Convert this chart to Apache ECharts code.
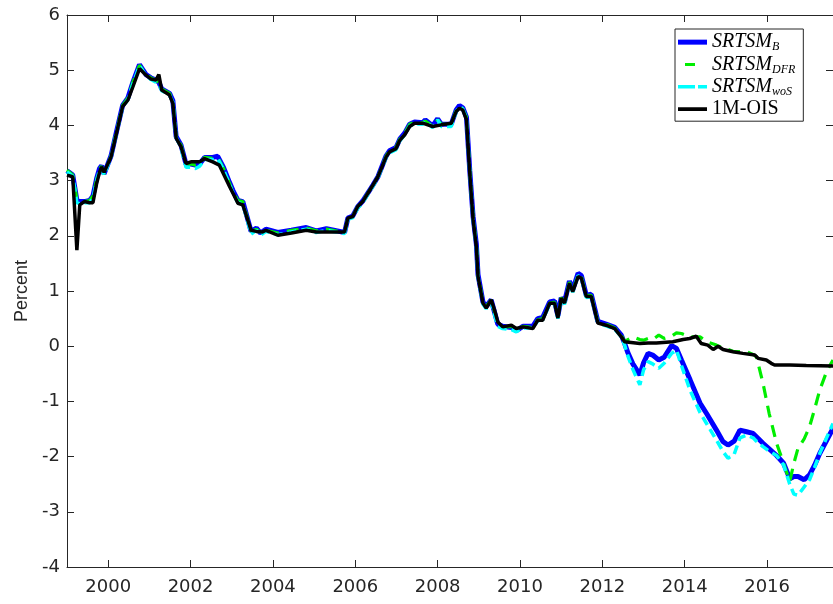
<!DOCTYPE html>
<html>
<head>
<meta charset="utf-8">
<script src="https://cdn.jsdelivr.net/npm/echarts@6/dist/echarts.min.js"></script>
<style>
  html, body { margin: 0; padding: 0; background: #fff; }
  #chart { width: 833px; height: 604px; }
</style>
</head>
<body>
<div id="chart"></div>
<script>
// x ticks (years)
const yearTicks = [2000, 2002, 2004, 2006, 2008, 2010, 2012, 2014, 2016];

// 1M-OIS: time (decimal year) and value (percent)
const oisT = [1999.00, 1999.14, 1999.16, 1999.24, 1999.31, 1999.42, 1999.55, 1999.63, 1999.72, 1999.79,
  1999.84, 1999.90, 2000.07, 2000.20, 2000.35, 2000.48, 2000.60, 2000.76, 2000.92, 2001.04,
  2001.16, 2001.23, 2001.30, 2001.49, 2001.57, 2001.65, 2001.77, 2001.89, 2002.01, 2002.22,
  2002.34, 2002.54, 2002.70, 2002.95, 2003.03, 2003.15, 2003.27, 2003.47, 2003.60, 2003.75,
  2003.83, 2004.12, 2004.45, 2004.81, 2005.05, 2005.30, 2005.74, 2005.82, 2005.94, 2006.06,
  2006.18, 2006.43, 2006.55, 2006.75, 2006.83, 2006.99, 2007.08, 2007.20, 2007.32, 2007.44,
  2007.64, 2007.88, 2008.09, 2008.33, 2008.45, 2008.53, 2008.61, 2008.70, 2008.78, 2008.86,
  2008.94, 2008.98, 2009.10, 2009.18, 2009.30, 2009.38, 2009.46, 2009.58, 2009.79, 2009.91,
  2010.07, 2010.31, 2010.43, 2010.55, 2010.72, 2010.84, 2010.92, 2011.00, 2011.08, 2011.20,
  2011.28, 2011.41, 2011.49, 2011.61, 2011.73, 2011.89, 2012.09, 2012.30, 2012.46, 2012.54,
  2012.91, 2013.11, 2013.31, 2013.71, 2013.96, 2014.12, 2014.28, 2014.40, 2014.56, 2014.69,
  2014.81, 2014.93, 2015.17, 2015.41, 2015.70, 2015.78, 2015.98, 2016.10, 2016.18, 2016.55,
  2016.95, 2017.60];
const oisV = [3.10, 3.07, 3.05, 1.74, 2.56, 2.62, 2.60, 2.60, 2.95, 3.15,
  3.25, 3.15, 3.43, 3.85, 4.34, 4.46, 4.70, 5.03, 4.91, 4.84,
  4.82, 4.92, 4.64, 4.55, 4.40, 3.77, 3.61, 3.31, 3.34, 3.34,
  3.40, 3.34, 3.28, 2.89, 2.77, 2.59, 2.56, 2.10, 2.08, 2.07,
  2.10, 2.01, 2.05, 2.10, 2.07, 2.07, 2.07, 2.32, 2.35, 2.53,
  2.62, 2.92, 3.07, 3.43, 3.52, 3.58, 3.73, 3.83, 3.98, 4.04,
  4.04, 3.98, 4.01, 4.04, 4.25, 4.31, 4.28, 4.10, 3.13, 2.30,
  1.80, 1.26, 0.78, 0.69, 0.84, 0.66, 0.44, 0.35, 0.38, 0.32,
  0.35, 0.32, 0.47, 0.47, 0.78, 0.78, 0.51, 0.87, 0.78, 1.14,
  0.99, 1.26, 1.23, 0.90, 0.90, 0.42, 0.38, 0.32, 0.17, 0.08,
  0.05, 0.06, 0.06, 0.08, 0.12, 0.14, 0.18, 0.05, 0.02, -0.06,
  0.00, -0.06, -0.10, -0.13, -0.16, -0.22, -0.25, -0.31, -0.34, -0.34,
  -0.35, -0.36];

// SRTSM shadow rates: shared time grid
const srtT = [1999.00, 1999.14, 1999.24, 1999.31, 1999.42, 1999.55, 1999.63, 1999.72, 1999.79, 1999.84,
  1999.90, 2000.07, 2000.20, 2000.35, 2000.48, 2000.60, 2000.76, 2000.92, 2001.04, 2001.16,
  2001.23, 2001.30, 2001.49, 2001.57, 2001.65, 2001.77, 2001.89, 2002.01, 2002.12, 2002.22,
  2002.34, 2002.54, 2002.66, 2002.80, 2002.95, 2003.03, 2003.15, 2003.27, 2003.47, 2003.60,
  2003.70, 2003.83, 2004.12, 2004.45, 2004.81, 2005.05, 2005.30, 2005.74, 2005.82, 2005.94,
  2006.06, 2006.18, 2006.43, 2006.55, 2006.75, 2006.83, 2006.99, 2007.08, 2007.20, 2007.32,
  2007.44, 2007.64, 2007.70, 2007.88, 2008.00, 2008.09, 2008.33, 2008.45, 2008.53, 2008.61,
  2008.70, 2008.78, 2008.86, 2008.94, 2008.98, 2009.10, 2009.18, 2009.30, 2009.38, 2009.46,
  2009.58, 2009.79, 2009.91, 2010.07, 2010.31, 2010.43, 2010.55, 2010.72, 2010.84, 2010.92,
  2011.00, 2011.08, 2011.20, 2011.28, 2011.41, 2011.49, 2011.61, 2011.73, 2011.89, 2012.09,
  2012.30, 2012.46, 2012.54, 2012.62, 2012.74, 2012.91, 2013.00, 2013.11, 2013.22, 2013.37,
  2013.50, 2013.68, 2013.80, 2013.92, 2014.13, 2014.37, 2014.53, 2014.77, 2014.93, 2015.05,
  2015.20, 2015.34, 2015.50, 2015.66, 2015.74, 2015.90, 2016.05, 2016.23, 2016.40, 2016.55,
  2016.65, 2016.75, 2016.90, 2017.03, 2017.15, 2017.28, 2017.45, 2017.60];
const srtB = [3.18, 3.10, 2.64, 2.62, 2.62, 2.64, 2.72, 3.04, 3.22, 3.27,
  3.12, 3.45, 3.88, 4.36, 4.50, 4.78, 5.10, 4.92, 4.86, 4.82,
  4.78, 4.66, 4.58, 4.45, 3.80, 3.64, 3.30, 3.30, 3.28, 3.30,
  3.42, 3.42, 3.44, 3.24, 2.96, 2.82, 2.64, 2.62, 2.08, 2.14,
  2.05, 2.12, 2.06, 2.10, 2.15, 2.09, 2.13, 2.06, 2.32, 2.36,
  2.53, 2.63, 2.92, 3.07, 3.45, 3.54, 3.60, 3.75, 3.86, 4.02,
  4.06, 4.05, 4.10, 3.99, 4.12, 4.02, 4.02, 4.28, 4.36, 4.32,
  4.15, 3.18, 2.35, 1.85, 1.30, 0.80, 0.72, 0.84, 0.62, 0.40,
  0.36, 0.34, 0.28, 0.36, 0.36, 0.50, 0.52, 0.80, 0.82, 0.55,
  0.88, 0.80, 1.18, 1.02, 1.32, 1.28, 0.92, 0.94, 0.45, 0.40,
  0.34, 0.20, 0.05, -0.12, -0.32, -0.52, -0.30, -0.13, -0.16, -0.25,
  -0.20, 0.01, -0.04, -0.25, -0.61, -1.03, -1.22, -1.52, -1.73, -1.79,
  -1.72, -1.52, -1.55, -1.58, -1.64, -1.76, -1.86, -1.98, -2.12, -2.40,
  -2.36, -2.36, -2.42, -2.33, -2.16, -1.94, -1.70, -1.49];
const srtDFR = [3.19, 3.10, 2.66, 2.62, 2.62, 2.64, 2.72, 3.02, 3.22, 3.26,
  3.12, 3.45, 3.88, 4.36, 4.50, 4.78, 5.09, 4.92, 4.86, 4.82,
  4.78, 4.66, 4.58, 4.45, 3.80, 3.64, 3.30, 3.30, 3.28, 3.30,
  3.42, 3.40, 3.42, 3.22, 2.94, 2.80, 2.64, 2.62, 2.08, 2.12,
  2.05, 2.10, 2.05, 2.10, 2.14, 2.09, 2.12, 2.06, 2.32, 2.36,
  2.53, 2.63, 2.92, 3.07, 3.45, 3.54, 3.60, 3.75, 3.86, 4.02,
  4.06, 4.05, 4.08, 3.99, 4.10, 4.02, 4.02, 4.28, 4.35, 4.30,
  4.15, 3.18, 2.35, 1.85, 1.30, 0.80, 0.72, 0.84, 0.62, 0.40,
  0.34, 0.36, 0.30, 0.36, 0.34, 0.48, 0.50, 0.78, 0.80, 0.55,
  0.88, 0.80, 1.16, 1.00, 1.30, 1.26, 0.92, 0.92, 0.44, 0.40,
  0.33, 0.20, 0.08, 0.12, 0.17, 0.12, 0.11, 0.14, 0.12, 0.20,
  0.14, 0.18, 0.24, 0.23, 0.17, 0.17, 0.08, 0.02, -0.04, -0.06,
  -0.10, -0.10, -0.10, -0.15, -0.19, -0.67, -1.22, -1.76, -2.12, -2.45,
  -2.12, -1.85, -1.68, -1.46, -1.15, -0.79, -0.45, -0.25];
const srtWoS = [3.16, 3.08, 2.60, 2.58, 2.60, 2.60, 2.68, 3.00, 3.20, 3.24,
  3.10, 3.43, 3.86, 4.33, 4.47, 4.75, 5.08, 4.90, 4.83, 4.78,
  4.74, 4.63, 4.55, 4.42, 3.78, 3.60, 3.24, 3.24, 3.22, 3.26,
  3.38, 3.38, 3.40, 3.20, 2.92, 2.78, 2.60, 2.58, 2.03, 2.10,
  2.01, 2.08, 2.02, 2.07, 2.12, 2.06, 2.10, 2.04, 2.30, 2.33,
  2.50, 2.60, 2.90, 3.05, 3.42, 3.50, 3.56, 3.72, 3.83, 3.99,
  4.03, 4.02, 4.08, 3.96, 4.10, 3.98, 3.98, 4.25, 4.34, 4.30,
  4.12, 3.15, 2.30, 1.80, 1.26, 0.76, 0.68, 0.80, 0.58, 0.36,
  0.32, 0.30, 0.26, 0.33, 0.33, 0.46, 0.48, 0.76, 0.78, 0.50,
  0.85, 0.76, 1.14, 0.98, 1.28, 1.24, 0.88, 0.90, 0.42, 0.37,
  0.31, 0.17, 0.02, -0.18, -0.42, -0.70, -0.43, -0.28, -0.32, -0.40,
  -0.31, -0.13, -0.07, -0.35, -0.80, -1.20, -1.40, -1.70, -1.91, -2.03,
  -1.96, -1.66, -1.61, -1.66, -1.72, -1.82, -1.90, -1.98, -2.15, -2.50,
  -2.68, -2.70, -2.55, -2.42, -2.20, -1.94, -1.65, -1.40];

const pairs = (t, v) => t.map((x, i) => [x, v[i]]);

const legendText = {
  'SRTSM_B': '{it|SRTSM}{sub|B}',
  'SRTSM_DFR': '{it|SRTSM}{sub|DFR}',
  'SRTSM_woS': '{it|SRTSM}{sub|woS}',
  '1M-OIS': '{rm|1M-OIS}'
};

// legend keys drawn as filled shapes in a 29 x 5 box (tiny corner marks keep the box size)
const corners = 'M0,0H0.01V0.01H0Z M28.99,4.99H29V5H28.99Z ';
const legendIcons = {
  'SRTSM_B': 'path://M0,0H29V5H0Z',
  'SRTSM_DFR': 'path://' + corners + 'M7,1H17V4H7Z',
  'SRTSM_woS': 'path://' + corners + 'M0,0.8H17V4.2H0Z M20,0.8H29V4.2H20Z',
  '1M-OIS': 'path://' + corners + 'M0,0.6H29V4.4H0Z'
};

const axisColor = '#262626';
const chart = echarts.init(document.getElementById('chart'));

const option = {
  animation: false,
  grid: { left: 67, right: -1, top: 15, bottom: 37 },
  legend: {
    orient: 'vertical',
    left: 675,
    top: 29,
    padding: [2, 8, 1, 3],
    itemGap: 0,
    itemWidth: 29,
    itemHeight: 5,
    backgroundColor: '#fff',
    borderColor: axisColor,
    borderWidth: 1,
    borderRadius: 0,
    data: Object.keys(legendIcons).map(name => ({ name: name, icon: legendIcons[name] })),
    formatter: name => legendText[name],
    textStyle: {
      lineHeight: 22.3,
      rich: {
        it: { fontFamily: 'Liberation Serif', fontStyle: 'italic', fontSize: 20, color: '#000' },
        sub: { fontFamily: 'Liberation Serif', fontStyle: 'italic', fontSize: 12, color: '#000', verticalAlign: 'bottom' },
        rm: { fontFamily: 'Liberation Serif', fontSize: 20, color: '#000' }
      }
    }
  },
  xAxis: [
    {
      type: 'value', min: 1999, max: 2017.6,
      axisLine: { onZero: false, lineStyle: { color: axisColor, width: 1 } },
      axisTick: { inside: true, length: 7, customValues: yearTicks, lineStyle: { color: axisColor } },
      axisLabel: {
        customValues: yearTicks, formatter: v => String(v),
        fontFamily: 'DejaVu Sans', fontSize: 18, color: axisColor, margin: 11
      },
      splitLine: { show: false }
    },
    {
      type: 'value', min: 1999, max: 2017.6, position: 'top',
      axisLine: { onZero: false, lineStyle: { color: axisColor, width: 1 } },
      axisTick: { inside: true, length: 7, customValues: yearTicks, lineStyle: { color: axisColor } },
      axisLabel: { show: false },
      splitLine: { show: false }
    }
  ],
  yAxis: [
    {
      type: 'value', min: -4, max: 6, interval: 1,
      name: 'Percent', nameLocation: 'middle', nameGap: 34,
      nameTextStyle: { fontFamily: 'Liberation Sans', fontSize: 18, color: axisColor },
      axisLine: { show: true, onZero: false, lineStyle: { color: axisColor, width: 1 } },
      axisTick: { show: true, inside: true, length: 7, lineStyle: { color: axisColor } },
      axisLabel: { fontFamily: 'DejaVu Sans', fontSize: 18, color: axisColor, margin: 7 },
      splitLine: { show: false }
    },
    {
      type: 'value', min: -4, max: 6, interval: 1, position: 'right',
      axisLine: { show: true, onZero: false, lineStyle: { color: axisColor, width: 1 } },
      axisTick: { show: true, inside: true, length: 7, lineStyle: { color: axisColor } },
      axisLabel: { show: false },
      splitLine: { show: false }
    }
  ],
  series: [
    {
      name: 'SRTSM_B', type: 'line', showSymbol: false, symbol: 'none',
      data: pairs(srtT, srtB),
      lineStyle: { color: '#0000ff', width: 5 }, itemStyle: { color: '#0000ff' }
    },
    {
      name: 'SRTSM_DFR', type: 'line', showSymbol: false, symbol: 'none',
      data: pairs(srtT, srtDFR),
      lineStyle: { color: '#00ee00', width: 3.2, type: [12, 8] }, itemStyle: { color: '#00ee00' }
    },
    {
      name: 'SRTSM_woS', type: 'line', showSymbol: false, symbol: 'none',
      data: pairs(srtT, srtWoS),
      lineStyle: { color: '#00ffff', width: 3.5, type: [9, 5] }, itemStyle: { color: '#00ffff' }
    },
    {
      name: '1M-OIS', type: 'line', showSymbol: false, symbol: 'none',
      data: pairs(oisT, oisV),
      lineStyle: { color: '#000', width: 3.5 }, itemStyle: { color: '#000' }
    }
  ]
};

chart.setOption(option);
</script>
</body>
</html>
